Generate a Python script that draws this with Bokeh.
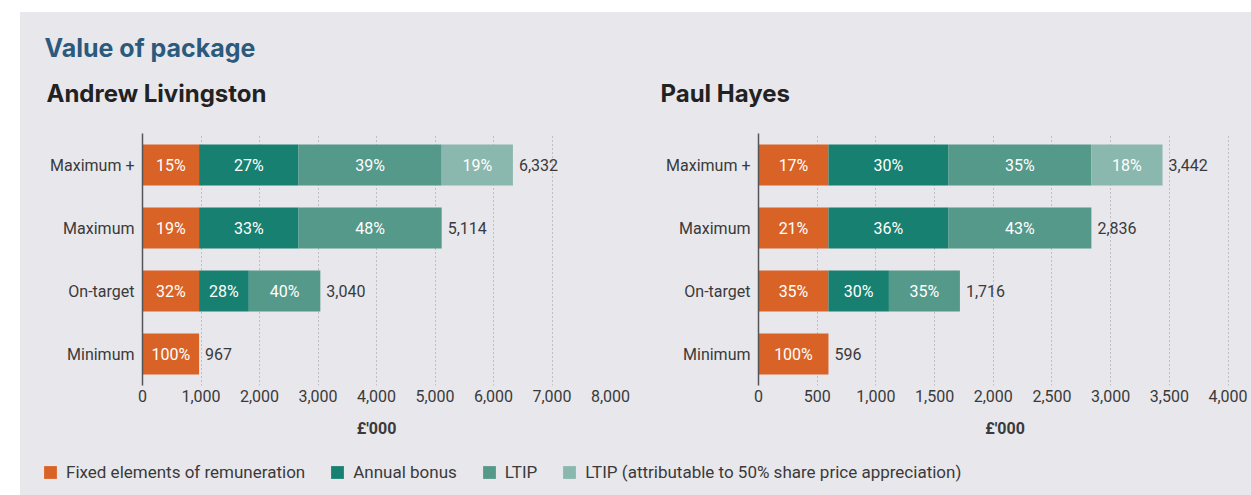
from bokeh.plotting import figure
from bokeh.models import (ColumnDataSource, FactorRange, Range1d, FixedTicker,
                          NumeralTickFormatter, Legend, LegendItem)
from bokeh.layouts import column, row
from bokeh.core.properties import value
from bokeh.embed import file_html
from bokeh.resources import INLINE

# ---------------- data ----------------
roles = ["Maximum +", "Maximum", "On-target", "Minimum"]
series_names = ["Fixed elements of remuneration", "Annual bonus", "LTIP",
                "LTIP (attributable to 50% share price appreciation)"]

al_fixed = [967, 967, 967, 967]
al_bonus = [1700, 1700, 850, 0]
al_ltip = [2447, 2447, 1223, 0]
al_ltip_sp = [1218, 0, 0, 0]
al_totals = [6332, 5114, 3040, 967]
al_pct_fixed = ["15%", "19%", "32%", "100%"]
al_pct_bonus = ["27%", "33%", "28%", ""]
al_pct_ltip = ["39%", "48%", "40%", ""]
al_pct_sp = ["19%", "", "", ""]
al_ticks = [0, 1000, 2000, 3000, 4000, 5000, 6000, 7000, 8000]

ph_fixed = [596, 596, 596, 596]
ph_bonus = [1020, 1020, 515, 0]
ph_ltip = [1220, 1220, 605, 0]
ph_ltip_sp = [606, 0, 0, 0]
ph_totals = [3442, 2836, 1716, 596]
ph_pct_fixed = ["17%", "21%", "35%", "100%"]
ph_pct_bonus = ["30%", "36%", "30%", ""]
ph_pct_ltip = ["35%", "43%", "35%", ""]
ph_pct_sp = ["18%", "", "", ""]
ph_ticks = [0, 500, 1000, 1500, 2000, 2500, 3000, 3500, 4000]

# ---------------- style ----------------
BG = "#e8e7ec"
COLORS = ["#d96326", "#178070", "#55998a", "#8ab8ae"]
FONT = "Roboto"
TXT = "#3a3a3a"
FS = "16px"


def make_chart(fixed, bonus, ltip, sp, totals, pcts, ticks, xmax,
               width, mbl, mbr):
    keys = ["fixed", "bonus", "ltip", "sp"]
    data = dict(role=roles, fixed=fixed, bonus=bonus, ltip=ltip, sp=sp)
    src = ColumnDataSource(data)
    p = figure(y_range=FactorRange(factors=roles[::-1]),
               x_range=Range1d(0, xmax), width=width, height=335,
               output_backend="svg", toolbar_location=None,
               min_border_left=mbl, min_border_right=mbr,
               min_border_top=21, min_border_bottom=62)
    p.background_fill_color = BG
    p.border_fill_color = BG
    p.outline_line_color = None

    p.hbar_stack(keys, y="role", height=0.65, color=COLORS, line_width=0,
                 source=src)

    # percentage labels in the middle of each segment
    lx, ly, lt = [], [], []
    for i, r in enumerate(roles):
        left = 0
        for j, k in enumerate(keys):
            v = data[k][i]
            pc = pcts[j][i]
            if v > 0 and pc:
                lx.append(left + v / 2)
                ly.append(r)
                lt.append(pc)
            left += v
    p.text(x=lx, y=ly, text=lt, text_color="white", text_align="center",
           text_baseline="middle", text_font=value(FONT),
           text_font_size=FS)

    # totals
    p.text(x=totals, y=roles, text=[f"{t:,}" for t in totals],
           text_color=TXT, text_align="left", text_baseline="middle",
           x_offset=6, text_font=value(FONT), text_font_size=FS)

    xa = p.xaxis[0]
    xa.ticker = FixedTicker(ticks=ticks)
    xa.formatter = NumeralTickFormatter(format="0,0")
    xa.axis_line_color = None
    xa.major_tick_line_color = None
    xa.minor_tick_line_color = None
    xa.major_tick_out = 0
    xa.major_tick_in = 0
    xa.major_label_standoff = 4
    xa.major_label_text_font = FONT
    xa.major_label_text_font_size = FS
    xa.major_label_text_color = TXT
    xa.axis_label = "£'000"
    xa.axis_label_text_font = FONT
    xa.axis_label_text_font_style = "bold"
    xa.axis_label_text_font_size = FS
    xa.axis_label_text_color = TXT
    xa.axis_label_standoff = 14

    ya = p.yaxis[0]
    ya.axis_line_color = "#555555"
    ya.axis_line_width = 1.5
    ya.major_tick_line_color = None
    ya.minor_tick_line_color = None
    ya.major_tick_out = 0
    ya.major_tick_in = 0
    ya.major_label_standoff = 8
    ya.major_label_text_font = FONT
    ya.major_label_text_font_size = FS
    ya.major_label_text_color = TXT

    p.ygrid.grid_line_color = None
    p.xgrid.ticker = FixedTicker(ticks=ticks)
    p.xgrid.grid_line_color = "#999999"
    p.xgrid.grid_line_dash = "1 3"
    p.xgrid.grid_line_width = 1
    return p


p1 = make_chart(al_fixed, al_bonus, al_ltip, al_ltip_sp, al_totals,
                [al_pct_fixed, al_pct_bonus, al_pct_ltip, al_pct_sp],
                al_ticks, 8000, 620, 122, 30)
p2 = make_chart(ph_fixed, ph_bonus, ph_ltip, ph_ltip_sp, ph_totals,
                [ph_pct_fixed, ph_pct_bonus, ph_pct_ltip, ph_pct_sp],
                ph_ticks, 4200, 611, 118, 0)

# ---------------- header ----------------
W = 1231
hdr = figure(width=W, height=100, x_range=Range1d(0, W), y_range=Range1d(0, 100),
             output_backend="svg", toolbar_location=None,
             x_axis_type=None, y_axis_type=None, min_border=0)
hdr.background_fill_color = BG
hdr.border_fill_color = BG
hdr.outline_line_color = None
hdr.grid.grid_line_color = None
hdr.text(x=[24], y=[65], text=["Value of package"], text_color="#2b5a7c",
         text_font=value("Inter"), text_font_style="bold",
         text_font_size="25px", text_baseline="middle")
hdr.text(x=[26, 640], y=[19, 19], text=["Andrew Livingston", "Paul Hayes"],
         text_color="#222222", text_font=value("Inter"),
         text_font_style="bold", text_font_size="24px",
         text_baseline="middle")

# ---------------- legend ----------------
leg = figure(width=W, height=48, x_range=Range1d(0, 1), y_range=Range1d(0, 1),
             output_backend="svg", toolbar_location=None,
             x_axis_type=None, y_axis_type=None, min_border=0)
leg.background_fill_color = BG
leg.border_fill_color = BG
leg.outline_line_color = None
leg.grid.grid_line_color = None
items = []
nan = float("nan")
for name, c in zip(series_names, COLORS):
    r = leg.hbar(y=[nan], right=[nan], height=0.5, fill_color=c,
                 line_color=None)
    items.append(LegendItem(label=name, renderers=[r]))
legend = Legend(items=items, orientation="horizontal", location=(22, 13),
                background_fill_alpha=0, border_line_color=None,
                padding=0, margin=0, glyph_width=16, glyph_height=16,
                label_height=16, label_standoff=8, spacing=24,
                label_text_font=FONT, label_text_font_size="17px",
                label_text_color=TXT)
leg.add_layout(legend, "center")

r_mid = row(p1, p2, styles={"background-color": BG})
layout = column(hdr, r_mid, leg, margin=(12, 0, 0, 20),
                styles={"background-color": BG})

open("out.html", "w").write(file_html(layout, INLINE))
